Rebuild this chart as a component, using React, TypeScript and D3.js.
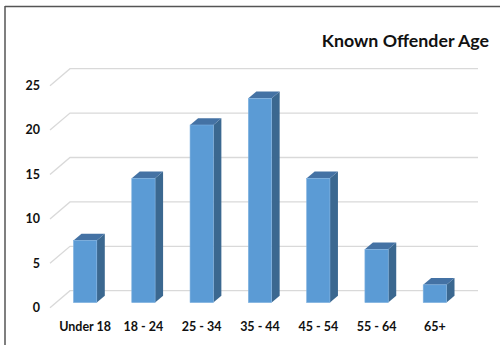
import React from "react";
import * as d3 from "d3";

const categories = ["Under 18", "18 - 24", "25 - 34", "35 - 44", "45 - 54", "55 - 64", "65+"];
const values = [7, 14, 20, 23, 14, 6, 2];
const yTicks = [0, 5, 10, 15, 20, 25];
const title = "Known Offender Age";

const W = 500;
const H = 345;
// plane geometry
const frontLeft = 50;
const depthX = 20;
const depthY = 17;
const plotWidth = 408;
const frontZeroY = 307.7;
const barDepthStart = 0.3;
const barDepthEnd = 0.7;

const FONT = "Lato, 'Open Sans', sans-serif";

export default function App() {
  const y = d3.scaleLinear().domain([0, 25]).range([0, 222]);
  // bar front plane
  const bx0 = frontLeft + depthX * barDepthStart;
  const by0 = frontZeroY - depthY * barDepthStart;
  const x = d3
    .scaleBand<string>()
    .domain(categories)
    .range([bx0, bx0 + plotWidth])
    .paddingInner(0.6)
    .paddingOuter(0.3);
  const bdx = depthX * (barDepthEnd - barDepthStart);
  const bdy = depthY * (barDepthEnd - barDepthStart);
  const backX0 = frontLeft + depthX;
  const backY0 = frontZeroY - depthY;

  return (
    <svg width={W} height={H} style={{ position: "absolute", left: 0, top: 0 }}>
      <rect x={0} y={0} width={W} height={H} fill="#fff" />
      <line x1={5} y1={6.5} x2={W} y2={6.5} stroke="#555" strokeWidth={1.5} />
      <line x1={5} y1={6} x2={5} y2={H} stroke="#555" strokeWidth={1.5} />
      <text x={489} y={47} textAnchor="end" fontFamily={FONT} fontWeight="bold" fontSize={17.8} fill="#111">
        {title}
      </text>
      {yTicks.map((t) => (
        <g key={t}>
          <polyline
            points={`${frontLeft},${frontZeroY - y(t)} ${backX0},${backY0 - y(t)} ${backX0 + plotWidth},${backY0 - y(t)}`}
            fill="none"
            stroke="#d9d9d9"
            strokeWidth={1.3}
          />
          <text
            x={40}
            y={frontZeroY - y(t)}
            dy="0.35em"
            textAnchor="end"
            fontFamily={FONT}
            fontWeight="bold"
            fontSize={12.5}
            fill="#111"
          >
            {t}
          </text>
        </g>
      ))}
      {categories.map((c, i) => {
        const x0 = x(c)!;
        const w = x.bandwidth();
        const h = y(values[i]);
        const top = by0 - h;
        return (
          <g key={c}>
            <polygon
              points={`${x0 + w},${by0} ${x0 + w + bdx},${by0 - bdy} ${x0 + w + bdx},${top - bdy} ${x0 + w},${top}`}
              fill="#3b6890"
            />
            <polygon
              points={`${x0},${top} ${x0 + bdx},${top - bdy} ${x0 + w + bdx},${top - bdy} ${x0 + w},${top}`}
              fill="#4472a4"
            />
            <rect x={x0} y={top} width={w} height={h} fill="#5b9bd5" stroke="#7fb1e0" strokeWidth={0.6} />
            <text
              x={x0 + w / 2 + 0}
              y={326.5}
              dy="0.35em"
              textAnchor="middle"
              fontFamily={FONT}
              fontWeight="bold"
              fontSize={12.5}
              fill="#111"
            >
              {c}
            </text>
          </g>
        );
      })}
    </svg>
  );
}
